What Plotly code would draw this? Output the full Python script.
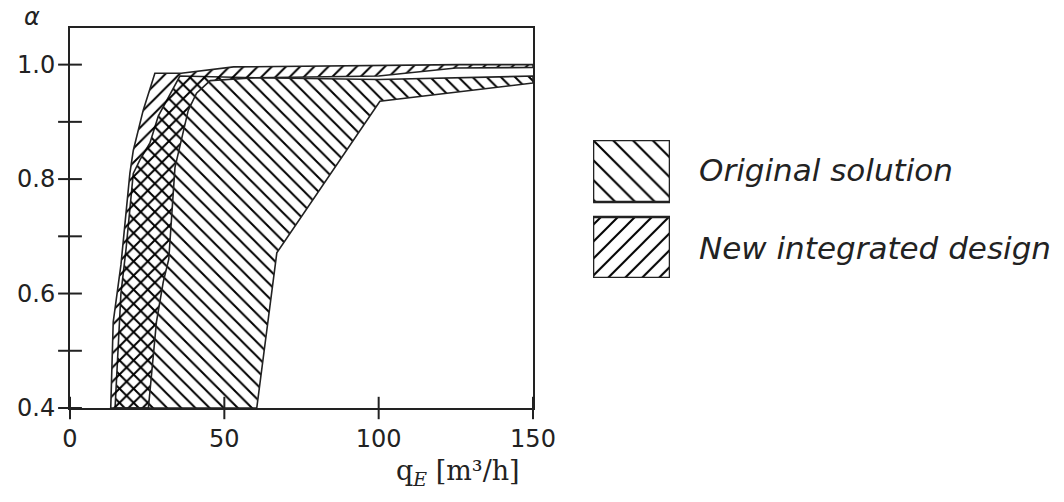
import plotly.graph_objects as go

# ---------------- data ----------------
# Original solution region boundaries (q_E [m3/h], alpha)
orig_left_x = [14.6, 16.5, 18.2, 19.4, 20.5, 22.7, 25.9, 28.6, 35.6]
orig_left_y = [0.40, 0.60, 0.68, 0.75, 0.81, 0.834, 0.863, 0.91, 0.98]
orig_top_x = [60.0, 100.0, 150.0]
orig_top_y = [0.977, 0.974, 0.980]
orig_right_x = [150.0, 100.4, 67.0, 60.5]
orig_right_y = [0.968, 0.936, 0.671, 0.40]

# New integrated design region boundaries
new_left_x = [13.2, 14.0, 16.5, 18.0, 19.4, 20.5, 23.7, 27.5]
new_left_y = [0.40, 0.55, 0.65, 0.73, 0.81, 0.85, 0.92, 0.985]
new_top_x = [36.0, 53.0, 126.0, 150.0]
new_top_y = [0.985, 0.996, 1.000, 1.000]
new_right_x = [150.0, 125.0, 100.0, 60.0, 45.4, 41.0, 38.3, 34.0, 32.0, 30.2, 28.0, 25.4]
new_right_y = [0.995, 0.994, 0.980, 0.977, 0.972, 0.950, 0.920, 0.820, 0.660, 0.620, 0.550, 0.400]

y_tick_vals = [0.4, 0.6, 0.8, 1.0]
y_tick_text = ["0.4", "0.6", "0.8", "1.0"]
y_minor_vals = [0.5, 0.7, 0.9]
x_tick_vals = [0, 50, 100, 150]
x_tick_text = ["0", "50", "100", "150"]

legend_names = ["Original solution", "New integrated design"]

INK = "#222222"
HATCH = "#000000"
TICKFONT = dict(family="DejaVu Sans", size=24, color=INK)

fig = go.Figure()

orig_x = orig_left_x + orig_top_x + orig_right_x
orig_y = orig_left_y + orig_top_y + orig_right_y
new_x = new_left_x + new_top_x + new_right_x
new_y = new_left_y + new_top_y + new_right_y

fig.add_trace(go.Scatter(
    x=orig_x + [orig_x[0]], y=orig_y + [orig_y[0]], mode="lines", fill="toself",
    line=dict(color=INK, width=1.6), fillcolor="rgba(0,0,0,0)",
    fillpattern=dict(shape="\\", size=10, solidity=0.2, fgcolor=HATCH, fgopacity=1,
                     bgcolor="rgba(0,0,0,0)"),
    name=legend_names[0], showlegend=False, hoverinfo="skip"))

fig.add_trace(go.Scatter(
    x=new_x + [new_x[0]], y=new_y + [new_y[0]], mode="lines", fill="toself",
    line=dict(color=INK, width=1.6), fillcolor="rgba(0,0,0,0)",
    fillpattern=dict(shape="/", size=10, solidity=0.2, fgcolor=HATCH, fgopacity=1,
                     bgcolor="rgba(0,0,0,0)"),
    name=legend_names[1], showlegend=False, hoverinfo="skip"))

# crossing tick marks on y axis
fig.add_trace(go.Scatter(
    x=[0] * (len(y_tick_vals) + len(y_minor_vals)), y=y_tick_vals + y_minor_vals,
    mode="markers", cliponaxis=False, hoverinfo="skip", showlegend=False,
    marker=dict(symbol="line-ew", size=17, line=dict(color=INK, width=2))))
# crossing tick marks on x axis
fig.add_trace(go.Scatter(
    x=x_tick_vals, y=[0.4] * len(x_tick_vals),
    mode="markers", cliponaxis=False, hoverinfo="skip", showlegend=False,
    marker=dict(symbol="line-ns", size=16, line=dict(color=INK, width=2))))

# legend swatches drawn on their own small axes
fig.add_trace(go.Scatter(
    x=[0, 1, 1, 0, 0], y=[0.551, 0.551, 1, 1, 0.551], xaxis="x2", yaxis="y2",
    mode="lines", fill="toself", line=dict(color=INK, width=2.5), fillcolor="rgba(0,0,0,0)",
    fillpattern=dict(shape="\\", size=14, solidity=0.15, fgcolor=HATCH, fgopacity=1,
                     bgcolor="rgba(0,0,0,0)"),
    showlegend=False, hoverinfo="skip"))
fig.add_trace(go.Scatter(
    x=[0, 1, 1, 0, 0], y=[0, 0, 0.442, 0.442, 0], xaxis="x2", yaxis="y2",
    mode="lines", fill="toself", line=dict(color=INK, width=2.5), fillcolor="rgba(0,0,0,0)",
    fillpattern=dict(shape="/", size=12, solidity=0.17, fgcolor=HATCH, fgopacity=1,
                     bgcolor="rgba(0,0,0,0)"),
    showlegend=False, hoverinfo="skip"))

fig.update_layout(
    width=1064, height=502,
    margin=dict(l=70, r=0, t=28, b=94, autoexpand=False),
    paper_bgcolor="white", plot_bgcolor="white",
    xaxis=dict(domain=[0, 0.4658], range=[0, 150], tickvals=x_tick_vals, ticktext=x_tick_text,
               ticks="", showgrid=False, zeroline=False, showline=True, mirror=True,
               linecolor=INK, linewidth=2, tickfont=TICKFONT, ticklabelstandoff=8,
               automargin=False),
    yaxis=dict(domain=[0, 1], range=[0.4, 1.064], tickvals=y_tick_vals, ticktext=y_tick_text,
               ticks="", showgrid=False, zeroline=False, showline=True, mirror=True,
               linecolor=INK, linewidth=2, tickfont=TICKFONT, ticklabelstandoff=8,
               automargin=False),
    xaxis2=dict(domain=[0.5262, 0.6036], range=[0, 1], visible=False, anchor="y2"),
    yaxis2=dict(domain=[0.342, 0.705], range=[0, 1], visible=False, anchor="x2"),
    showlegend=False,
)

fig.add_annotation(xref="paper", yref="paper", x=0.6308, y=0.626, xanchor="left", yanchor="middle",
                   text="<i>" + legend_names[0] + "</i>", showarrow=False,
                   font=dict(family="DejaVu Sans", size=31, color=INK))
fig.add_annotation(xref="paper", yref="paper", x=0.6308, y=0.421, xanchor="left", yanchor="middle",
                   text="<i>" + legend_names[1] + "</i>", showarrow=False,
                   font=dict(family="DejaVu Sans", size=31, color=INK))
fig.add_annotation(xref="paper", yref="paper", x=-0.038, y=1.03, xanchor="center", yanchor="middle",
                   text="<i>α</i>", showarrow=False,
                   font=dict(family="DejaVu Sans", size=24, color=INK))
fig.add_annotation(xref="paper", yref="paper", x=0.4547, y=-0.17, xanchor="right", yanchor="middle",
                   text="q<sub><i>E</i></sub> [m³/h]", showarrow=False,
                   font=dict(family="DejaVu Serif", size=27, color=INK))

fig.write_html("out.html", config={"displayModeBar": False},
               post_script="document.body.style.margin='0';document.body.style.padding='0';")
